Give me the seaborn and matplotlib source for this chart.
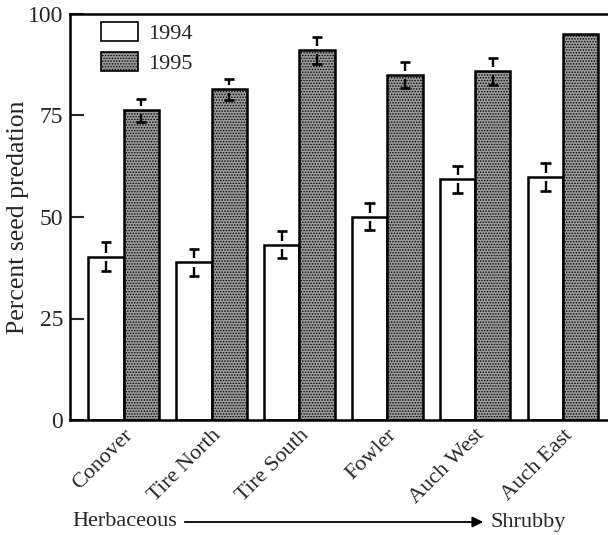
import matplotlib
matplotlib.use('Agg')
import matplotlib.pyplot as plt
import seaborn as sns
import pandas as pd
import numpy as np
from matplotlib.patches import Patch

sites = ['Conover', 'Tire North', 'Tire South', 'Fowler', 'Auch West', 'Auch East']
years = ['1994', '1995']
pred_1994 = [40.2, 38.8, 43.2, 50.1, 59.3, 59.8]
pred_1995 = [76.3, 81.5, 91.1, 84.9, 85.9, 95.1]
err_1994 = [3.6, 3.3, 3.3, 3.3, 3.3, 3.4]
err_1995 = [2.8, 2.6, 3.3, 3.2, 3.3, np.nan]
yticks = [0, 25, 50, 75, 100]

sns.set_style('ticks')
plt.rcParams['font.family'] = ['Liberation Serif', 'DejaVu Serif']
plt.rcParams['hatch.linewidth'] = 0.7
plt.rcParams['hatch.color'] = '#222222'

df = pd.DataFrame({
    'site': sites * 2,
    'year': [years[0]] * len(sites) + [years[1]] * len(sites),
    'pred': pred_1994 + pred_1995,
    'err': err_1994 + err_1995,
})

fig = plt.figure(figsize=(6.08, 5.35), dpi=100)
ax = fig.add_axes([70 / 608, 1 - 420 / 535, 1 - 70 / 608, (420 - 14) / 535])

face = {'1994': 'white', '1995': '#9c9c9c'}
sns.barplot(data=df, x='site', y='pred', hue='year', order=sites, hue_order=years,
            palette=face, edgecolor='black', linewidth=1.8, errorbar=None,
            width=0.8, saturation=1, ax=ax, legend=False)

bars = [p for p in ax.patches]
n = len(sites)
for i, b in enumerate(bars):
    if i >= n:
        b.set_hatch('......')

# error bars drawn as T above and inverted T below the bar top, with a small gap
gap = 1.0
capw = 0.06
for i, b in enumerate(bars):
    v = df['pred'].iloc[i]
    e = df['err'].iloc[i]
    if np.isnan(e):
        continue
    xc = b.get_x() + b.get_width() / 2
    ax.vlines(xc, v + gap, v + e, color='black', lw=1.7, zorder=5)
    ax.hlines(v + e, xc - capw, xc + capw, color='black', lw=1.9, zorder=5)
    ax.vlines(xc, v - e, v - gap, color='black', lw=1.7, zorder=5)
    ax.hlines(v - e, xc - capw, xc + capw, color='black', lw=1.9, zorder=5)

ax.set_ylim(0, 100)
ax.set_xlim(-0.61, 5.51)
ax.set_yticks(yticks)
ax.set_yticklabels([str(t) for t in yticks], fontsize=17)
ax.tick_params(axis='y', direction='in', length=10, width=1.5, pad=5)
ax.tick_params(axis='x', length=0, pad=4)
ax.set_xticks(range(n))
ax.set_xticklabels(sites, rotation=45, ha='right', rotation_mode='anchor', fontsize=16)
ax.set_xlabel('')
ax.set_ylabel('Percent seed predation', fontsize=18.5)
ax.yaxis.set_label_coords(-0.076, 0.5)

for s in ['left', 'bottom', 'top']:
    ax.spines[s].set_visible(True)
    ax.spines[s].set_linewidth(1.8)
    ax.spines[s].set_color('black')
ax.spines['right'].set_visible(False)

handles = [Patch(facecolor=face['1994'], edgecolor='black', linewidth=1.2),
           Patch(facecolor=face['1995'], edgecolor='black', linewidth=1.2, hatch='......')]
ax.legend(handles, years, loc='upper left', bbox_to_anchor=(0.028, 1.018), frameon=False,
          fontsize=16, handlelength=1.7, handleheight=0.95, handletextpad=0.45,
          labelspacing=0.35, borderaxespad=0.3)

# gradient annotation below the axis
ty = 1 - 522 / 535
fig.text(72 / 608, ty, 'Herbaceous', fontsize=16, ha='left', va='center')
fig.text(490 / 608, ty, 'Shrubby', fontsize=16, ha='left', va='center')
fig.add_artist(matplotlib.patches.FancyArrowPatch(
    (182 / 608, ty), (486 / 608, ty), transform=fig.transFigure,
    arrowstyle='-|>', mutation_scale=16, lw=1.3, color='black'))

fig.savefig('out.png', dpi=100)
